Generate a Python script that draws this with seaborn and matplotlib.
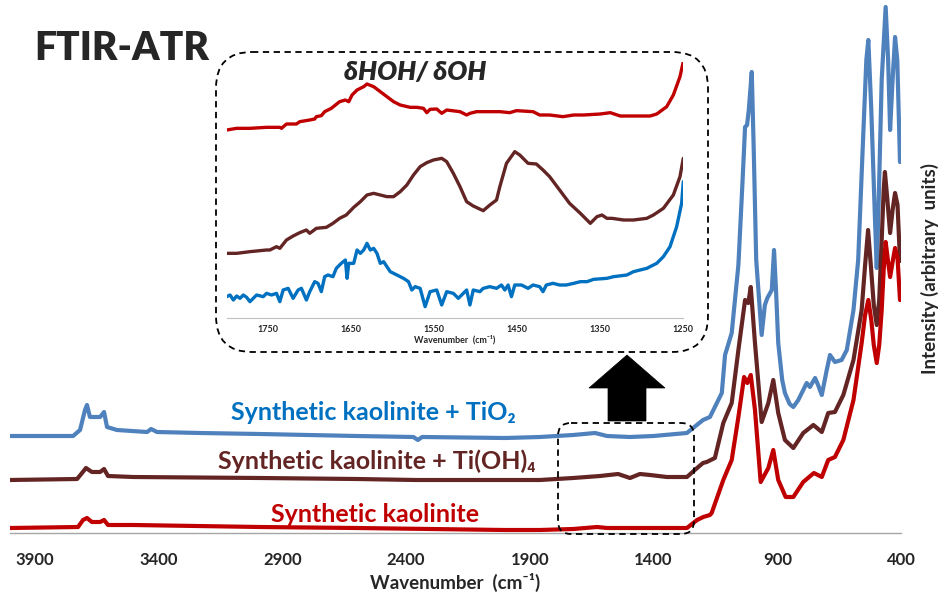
import numpy as np
import pandas as pd
import matplotlib
matplotlib.use("Agg")
import matplotlib.pyplot as plt
import seaborn as sns
from matplotlib.patches import FancyBboxPatch, Polygon

# ---------------- main spectra (wavenumber, intensity in arbitrary units) ----------------
blue_wn = [4000, 3745, 3717, 3697, 3689, 3677, 3636, 3620, 3608, 3568, 3446, 3430, 3406, 3232, 2990,
           2600, 2370, 2352, 2335, 2000, 1859, 1725, 1636, 1588, 1495, 1400, 1265, 1240, 1200, 1172,
           1124, 1111, 1084, 1057, 1040, 1030, 1022, 1015, 1003, 995, 985, 963, 950, 940, 922, 913,
           905, 896, 880, 869, 850, 835, 815, 801, 781, 768, 747, 735, 720, 700, 687, 667, 640, 619,
           592, 573, 555, 540, 532, 520, 505, 498, 490, 478, 462, 452, 444, 434, 424, 415, 404]
blue_int = [97, 97, 103, 123, 128, 116, 116, 121, 106, 103, 101, 104, 101, 100, 99,
            97, 96, 93, 96, 95, 96, 98, 100, 97, 96, 97, 100, 105, 113, 116,
            140, 178, 200, 268, 353, 406, 408, 423, 461, 383, 273, 198, 228, 235, 243, 283,
            243, 190, 153, 140, 129, 126, 133, 140, 150, 146, 155, 148, 138, 163, 178, 171, 173, 183,
            223, 273, 383, 473, 493, 423, 313, 265, 333, 453, 526, 473, 403, 453, 496, 473, 371]

brown_wn = [4000, 3729, 3709, 3693, 3669, 3636, 3620, 3604, 3503, 2990, 2600, 2360, 2000, 1859, 1725,
            1616, 1543, 1495, 1455, 1414, 1346, 1265, 1224, 1200, 1185, 1152, 1118, 1084, 1057, 1030,
            1017, 1007, 990, 963, 936, 916, 896, 869, 835, 795, 754, 720, 694, 667, 633, 592, 559,
            545, 533, 522, 510, 498, 488, 478, 470, 465, 455, 444, 434, 424, 414, 404]
brown_int = [53, 54, 60, 65, 61, 61, 64, 57, 56, 55, 54, 53, 53, 53, 55,
             57, 59, 55, 59, 58, 56, 56, 65, 70, 71, 75, 110, 130, 183, 233,
             230, 246, 190, 111, 130, 153, 120, 93, 85, 100, 108, 101, 120, 121, 138, 173, 223,
             268, 303, 268, 228, 208, 233, 293, 343, 361, 333, 300, 323, 340, 328, 272]

red_wn = [4000, 3725, 3705, 3689, 3669, 3636, 3620, 3604, 3503, 2990, 2600, 2000, 1859, 1725, 1628,
          1588, 1265, 1224, 1199, 1172, 1165, 1118, 1084, 1057, 1034, 1021, 1007, 990, 967, 936,
          916, 896, 866, 835, 795, 752, 720, 694, 667, 633, 592, 559, 545, 532, 520, 510, 498,
          488, 478, 470, 462, 452, 444, 434, 424, 414, 404]
red_int = [5, 6, 13, 15, 11, 11, 13, 8, 8, 6, 5, 3, 3, 4, 6,
           5, 5, 13, 16, 18, 20, 53, 73, 116, 156, 150, 158, 123, 51, 65,
           83, 53, 36, 36, 51, 60, 56, 73, 76, 93, 133, 190, 218, 233, 213, 188, 170,
           188, 223, 263, 291, 271, 256, 271, 285, 275, 233]

main_ticks = [3900, 3400, 2900, 2400, 1900, 1400, 900, 400]

# ---------------- inset spectra (1800-1250 cm-1) ----------------
in_red_wn = [1800, 1788, 1772, 1752, 1736, 1734, 1728, 1716, 1712, 1700, 1694, 1692, 1686, 1682, 1674,
             1664, 1657, 1653, 1649, 1643, 1635, 1631, 1623, 1615, 1607, 1599, 1591, 1579, 1571,
             1563, 1559, 1555, 1547, 1541, 1535, 1519, 1511, 1507, 1499, 1483, 1471, 1459, 1451,
             1431, 1423, 1411, 1395, 1382, 1370, 1350, 1338, 1326, 1310, 1290, 1282, 1270, 1262,
             1254, 1250]
in_red_int = [57.0, 57.5, 57.5, 57.8, 57.8, 57.5, 58.8, 58.8, 59.5, 60.0, 60.3, 61.0, 61.3, 62.5, 63.5,
              65.5, 66.0, 65.5, 67.5, 69.0, 70.0, 70.8, 70.0, 68.5, 67.0, 65.5, 64.5, 63.8, 63.8,
              63.5, 62.2, 63.2, 63.3, 62.0, 63.0, 62.5, 61.5, 62.0, 62.5, 62.5, 62.5, 62.2, 62.8,
              62.5, 61.5, 61.5, 61.0, 61.5, 61.5, 61.8, 62.2, 61.2, 61.2, 61.2, 61.8, 64.0, 67.5,
              73.0, 77.5]

in_brown_wn = [1800, 1788, 1772, 1752, 1748, 1740, 1736, 1728, 1720, 1712, 1704, 1700, 1692, 1680, 1672,
               1664, 1656, 1647, 1639, 1631, 1623, 1615, 1607, 1599, 1591, 1583, 1575, 1567, 1559,
               1551, 1541, 1535, 1527, 1519, 1511, 1503, 1491, 1483, 1475, 1471, 1463, 1453, 1447,
               1437, 1427, 1419, 1411, 1399, 1387, 1374, 1362, 1354, 1348, 1342, 1336, 1322, 1310,
               1294, 1286, 1274, 1262, 1254, 1250]
in_brown_int = [20.0, 20.0, 20.5, 21.0, 21.0, 22.0, 21.5, 24.0, 25.2, 26.2, 27.0, 26.0, 27.5, 27.8, 29.0,
                30.5, 31.5, 33.8, 35.5, 37.5, 38.0, 37.5, 37.0, 37.0, 38.5, 40.5, 43.5, 46.0, 47.2,
                48.0, 48.5, 47.5, 44.0, 40.0, 35.5, 34.2, 32.8, 34.5, 36.0, 40.0, 47.0, 50.5, 49.5,
                47.0, 46.8, 45.0, 43.0, 39.0, 35.0, 32.0, 29.0, 31.0, 31.5, 30.5, 30.5, 30.0, 30.0,
                30.5, 31.5, 33.5, 37.5, 43.0, 48.5]

in_blue_wn = [1800, 1796, 1792, 1788, 1784, 1780, 1776, 1772, 1768, 1764, 1756, 1752, 1746, 1740, 1736,
              1732, 1726, 1720, 1714, 1710, 1704, 1700, 1694, 1690, 1686, 1682, 1678, 1672, 1668,
              1662, 1657, 1655, 1653, 1647, 1643, 1639, 1635, 1631, 1627, 1623, 1619, 1615, 1611,
              1603, 1595, 1587, 1581, 1577, 1573, 1567, 1561, 1555, 1547, 1541, 1535, 1527, 1521,
              1515, 1511, 1507, 1503, 1495, 1491, 1483, 1475, 1469, 1465, 1461, 1457, 1453, 1445,
              1437, 1431, 1423, 1419, 1415, 1407, 1399, 1391, 1382, 1374, 1366, 1358, 1342, 1334,
              1318, 1310, 1294, 1282, 1274, 1266, 1258, 1252, 1250]
in_blue_int = [7.0, 7.5, 6.0, 7.2, 6.5, 7.5, 6.8, 5.5, 6.5, 7.5, 7.0, 8.0, 7.5, 8.0, 5.5,
               9.0, 9.5, 6.5, 9.0, 9.5, 6.0, 8.5, 11.5, 11.0, 8.5, 13.0, 13.5, 13.0, 15.5,
               17.0, 18.0, 12.5, 17.0, 17.0, 21.0, 20.0, 21.0, 23.0, 21.0, 21.5, 20.0, 17.0, 17.5,
               14.5, 13.5, 12.5, 11.5, 9.0, 10.0, 9.5, 4.0, 8.5, 9.0, 4.5, 8.5, 8.0, 6.5,
               8.0, 9.0, 4.5, 9.0, 8.5, 9.5, 10.0, 9.5, 10.5, 9.0, 10.5, 7.0, 10.5, 10.5,
               9.5, 10.5, 10.0, 8.5, 10.5, 11.0, 10.5, 10.5, 11.0, 11.5, 11.5, 12.2, 12.5, 13.0,
               13.5, 14.5, 15.5, 17.0, 19.0, 22.0, 28.0, 35.0, 41.5]

inset_ticks = [1750, 1650, 1550, 1450, 1350, 1250]

series_labels = ["Synthetic kaolinite + TiO\u2082", "Synthetic kaolinite + Ti(OH)\u2084", "Synthetic kaolinite"]

# ---------------- styling ----------------
sns.set_style("white")
plt.rcParams['font.family'] = ['Lato', 'DejaVu Sans']
plt.rcParams['font.weight'] = 'bold'

C_BLUE = "#4F81BD"
C_BROWN = "#632523"
C_RED = "#C00000"
C_IBLUE = "#0070C0"

W, H = 942, 598
fig = plt.figure(figsize=(9.42, 5.98), dpi=100)


def fx(px):
    return px / W


def fy(py):
    return 1 - py / H


# ---------------- main axes ----------------
ax = fig.add_axes([fx(10), fy(533), fx(901) - fx(10), fy(3) - fy(533)])
ax.patch.set_alpha(0)
main = [(blue_wn, blue_int, C_BLUE), (brown_wn, brown_int, C_BROWN), (red_wn, red_int, C_RED)]
for wn, it, col in main:
    df = pd.DataFrame({"wn": wn, "I": it})
    sns.lineplot(data=df, x="wn", y="I", ax=ax, color=col, lw=3.0, estimator=None, sort=False)
ax.set_xlim(4000, 400)
ax.set_ylim(0, 530)
ax.set_xticks(main_ticks)
ax.set_xticklabels([str(t) for t in main_ticks])
for s in ["top", "left", "right"]:
    ax.spines[s].set_visible(False)
ax.spines["bottom"].set_color("#A6A6A6")
ax.spines["bottom"].set_linewidth(1.0)
ax.tick_params(axis="x", direction="out", length=5, width=1, color="#A6A6A6",
               labelsize=12, pad=9)
ax.tick_params(axis="y", left=False, right=False, labelleft=False)
ax.set_xlabel("Wavenumber  (cm\u207b\u00b9)", fontsize=13.5, fontweight="bold", labelpad=3)
ax.yaxis.set_label_position("right")
ax.set_ylabel("Intensity (arbitrary  units)", fontsize=13.5, fontweight="bold", labelpad=14)

# ---------------- inset axes ----------------
iax = fig.add_axes([fx(226.7), fy(318), fx(683.3) - fx(226.7), fy(62) - fy(318)])
iax.patch.set_alpha(0)
inset = [(in_red_wn, in_red_int, C_RED), (in_brown_wn, in_brown_int, C_BROWN),
         (in_blue_wn, in_blue_int, C_IBLUE)]
for wn, it, col in inset:
    df = pd.DataFrame({"wn": wn, "I": it})
    sns.lineplot(data=df, x="wn", y="I", ax=iax, color=col, lw=2.4, estimator=None, sort=False)
iax.set_xlim(1800, 1250)
iax.set_ylim(0.6, 77.4)
iax.set_xticks(inset_ticks)
iax.set_xticklabels([str(t) for t in inset_ticks])
for s in ["top", "left", "right"]:
    iax.spines[s].set_visible(False)
iax.spines["bottom"].set_color("#BFBFBF")
iax.tick_params(axis="x", direction="out", length=3, width=0.8, color="#BFBFBF",
                labelsize=6.5, pad=2)
iax.tick_params(axis="y", left=False, labelleft=False)
iax.set_xlabel("Wavenumber  (cm\u207b\u00b9)", fontsize=6.5, fontweight="bold", labelpad=1)
iax.set_ylabel("")

# ---------------- texts ----------------
fig.text(fx(34), fy(48), "FTIR-ATR", fontsize=28, fontweight="heavy", ha="left", va="center")
fig.text(fx(415), fy(72), "\u03b4HOH/ \u03b4OH", fontsize=19, fontweight="heavy", style="italic",
         ha="center", va="center")
fig.text(fx(373), fy(413), series_labels[0], fontsize=18, fontweight="bold", color=C_IBLUE,
         ha="center", va="center")
fig.text(fx(377), fy(461), series_labels[1], fontsize=18, fontweight="bold", color=C_BROWN,
         ha="center", va="center")
fig.text(fx(375), fy(515), series_labels[2], fontsize=18, fontweight="bold", color=C_RED,
         ha="center", va="center")

# ---------------- overlay: dashed boxes and arrow ----------------
oax = fig.add_axes([0, 0, 1, 1], zorder=5)
oax.set_xlim(0, W)
oax.set_ylim(H, 0)
oax.axis("off")
oax.patch.set_alpha(0)
box1 = FancyBboxPatch((216, 52), 492, 300, boxstyle="round,pad=0,rounding_size=36",
                      fill=False, ec="black", lw=1.3, ls=(0, (3.5, 2.5)))
box2 = FancyBboxPatch((558, 423), 136, 111, boxstyle="round,pad=0,rounding_size=13",
                      fill=False, ec="black", lw=1.3, ls=(0, (3.5, 2.5)))
oax.add_patch(box1)
oax.add_patch(box2)
arrow = Polygon([(627, 355), (665, 388), (646, 388), (646, 421), (608, 421), (608, 388), (589, 388)],
                closed=True, fc="black", ec="black", lw=0.5)
oax.add_patch(arrow)

fig.savefig("out.png", dpi=100)
